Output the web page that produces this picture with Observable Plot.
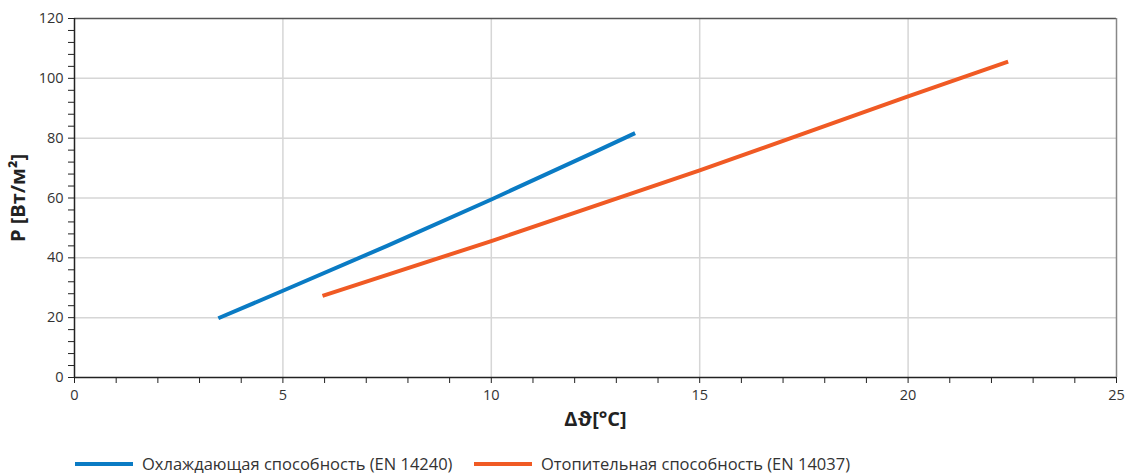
<!DOCTYPE html>
<html><head><meta charset="utf-8">
<script src="https://cdn.jsdelivr.net/npm/d3@7"></script>
<script src="https://cdn.jsdelivr.net/npm/@observablehq/plot@0.6"></script>
<style>
body{margin:0;background:#fff;font-family:"Open Sans",sans-serif;}
#legend{position:relative;height:30px;font-size:16.5px;color:#333;}
.item{position:absolute;top:7px;display:flex;align-items:center;white-space:nowrap;}
.sw{display:inline-block;width:58px;height:4px;margin-right:9px;}
</style></head><body>
<div id="chart"></div>
<div id="legend"></div>
<script>
const seriesNames = ["Охлаждающая способность (EN 14240)", "Отопительная способность (EN 14037)"];
const seriesColors = ["#0a7bc4", "#f05a24"];
const coolX = [3.45, 5, 7.5, 10, 12.5, 13.45];
const coolY = [19.8, 29, 44, 59.5, 75.5, 81.7];
const heatX = [5.95, 10, 15, 20, 22.4];
const heatY = [27.3, 45.6, 69.2, 94, 105.6];
const xTicks = d3.range(0, 26, 1);
const yTicks = d3.range(0, 121, 4);
const xGrid = [5, 10, 15, 20];
const yGrid = [20, 40, 60, 80, 100];

const cool = coolX.map((x, i) => ({x, y: coolY[i]}));
const heat = heatX.map((x, i) => ({x, y: heatY[i]}));

const plot = Plot.plot({
  width: 1127, height: 445,
  marginLeft: 74, marginRight: 11, marginTop: 18, marginBottom: 68,
  style: {fontFamily: "'Open Sans', sans-serif", fontSize: "14px", color: "#333"},
  x: {domain: [0, 25]},
  y: {domain: [0, 120]},
  marks: [
    Plot.gridX(xGrid, {stroke: "#d6d6d6", strokeOpacity: 1, strokeWidth: 1.5}),
    Plot.gridY(yGrid, {stroke: "#d6d6d6", strokeOpacity: 1, strokeWidth: 1.5}),
    Plot.ruleY([120], {stroke: "#555", strokeWidth: 1.5}),
    Plot.ruleX([25], {stroke: "#888", strokeWidth: 1.5}),
    Plot.line(cool, {x: "x", y: "y", stroke: seriesColors[0], strokeWidth: 4, strokeLinecap: "butt"}),
    Plot.line(heat, {x: "x", y: "y", stroke: seriesColors[1], strokeWidth: 4, strokeLinecap: "butt"}),
    Plot.ruleY([0], {stroke: "#222", strokeWidth: 1.5}),
    Plot.ruleX([0], {stroke: "#222", strokeWidth: 1.5}),
    Plot.axisX({ticks: xTicks, tickSize: 6, tickPadding: 6, stroke: "#222", fill: "#333",
      tickFormat: d => d % 5 === 0 ? String(d) : "", label: null, fontSize: 14.5}),
    Plot.axisY({ticks: yTicks, tickSize: 6, tickPadding: 5, stroke: "#222", fill: "#333",
      tickFormat: d => d % 20 === 0 ? String(d) : "", label: null, fontSize: 14.5}),
    Plot.text(["Δϑ[°C]"], {x: 12.5, y: 0, frameAnchor: "bottom", dy: 48, fontWeight: "bold", fontSize: 20, fill: "#222"}),
    Plot.text(["P [Вт/м²]"], {x: 0, y: 60, dx: -56, rotate: -90, fontWeight: "bold", fontSize: 20, fill: "#222"})
  ]
});
document.getElementById("chart").appendChild(plot);

const lg = document.getElementById("legend");
const lefts = [75, 474];
seriesNames.forEach((n, i) => {
  const it = document.createElement("div");
  it.className = "item";
  it.style.left = lefts[i] + "px";
  it.innerHTML = `<span class="sw" style="background:${seriesColors[i]}"></span><span>${n}</span>`;
  lg.appendChild(it);
});
</script></body></html>
